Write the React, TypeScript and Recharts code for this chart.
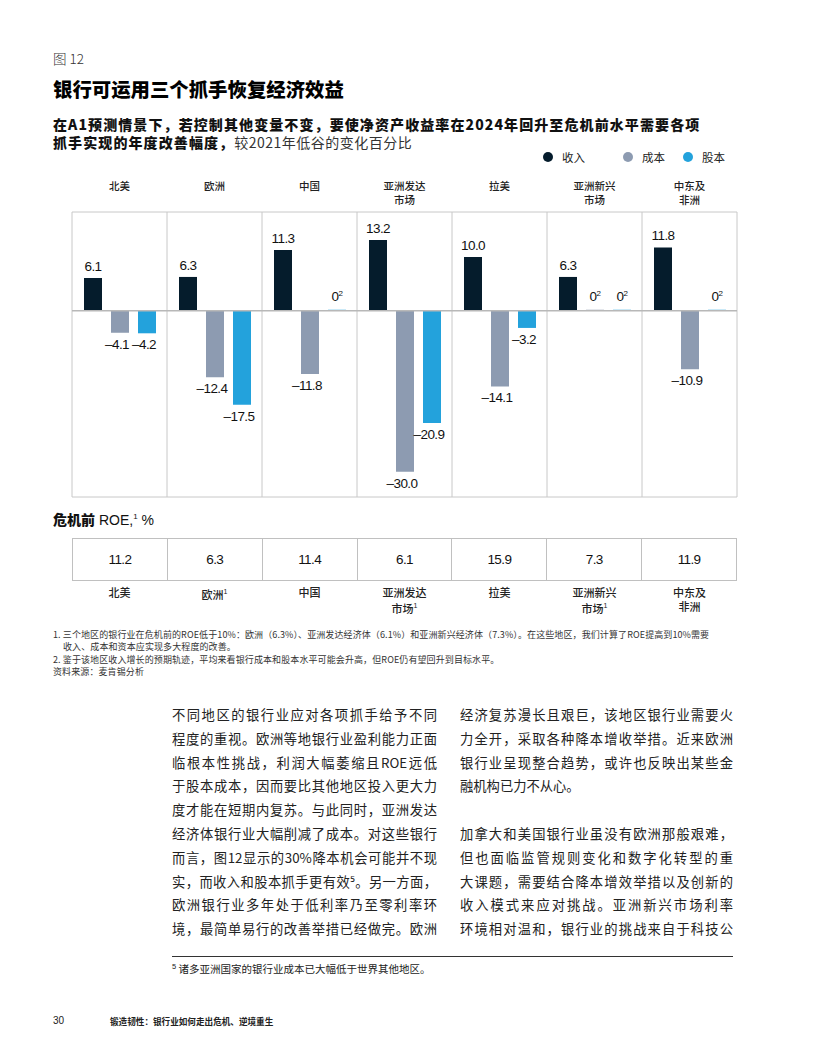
import React from "react";
import { BarChart, Bar, XAxis, YAxis, CartesianGrid, ReferenceLine, LabelList } from "recharts";

const regions = ["北美", "欧洲", "中国", "亚洲发达\n市场", "拉美", "亚洲新兴\n市场", "中东及\n非洲"];
const revenue = [6.1, 6.3, 11.3, 13.2, 10.0, 6.3, 11.8];
const cost = [-4.1, -12.4, -11.8, -30.0, -14.1, 0, -10.9];
const equity = [-4.2, -17.5, 0, -20.9, -3.2, 0, 0];
const seriesNames = ["收入", "成本", "股本"];
const seriesColors = ["#051c2c", "#8d9bb1", "#23a2dc"];

const roeValues = [11.2, 6.3, 11.4, 6.1, 15.9, 7.3, 11.9];
const roeLabels = ["北美", "欧洲¹", "中国", "亚洲发达\n市场¹", "拉美", "亚洲新兴\n市场¹", "中东及\n非洲"];

const data = regions.map((r, i) => ({ region: r, revenue: revenue[i], cost: cost[i], equity: equity[i] }));

const CJK = '"Noto Sans CJK SC", "Noto Sans", sans-serif';
const NUM = '"Liberation Sans", Arial, sans-serif';

// zero values still get a hairline so the "0²" label has a bar to sit on
const zeroStub = (v: number) => (v === 0 ? 1 : 0);

// region names sit above the box, two lines packed tight like the print
const RegionTick = (props: any) => {
  const { x, y, payload } = props;
  const lines = String(payload.value).split("\n");
  return (
    <foreignObject x={x - 45} y={y - 24.8} width={90} height={30}>
      <div style={{ textAlign: "center", fontFamily: CJK, fontSize: 10.5, fontWeight: 500, lineHeight: "13.6px", color: "#222" }}>
        {lines.map((l, i) => (
          <div key={i}>{l}</div>
        ))}
      </div>
    </foreignObject>
  );
};

const ValueLabel = (props: any) => {
  const { x, y, width, height, value } = props;
  const top = Math.min(y, y + height);
  const bottom = Math.max(y, y + height);
  const cx = x + width / 2;
  if (Number(value) === 0) {
    return (
      <text x={cx} y={top - 9} textAnchor="middle" fontFamily={NUM} fontSize={13.5} letterSpacing={-0.5} fill="#111">
        0<tspan fontSize={8} dy={-5}>2</tspan>
      </text>
    );
  }
  if (value > 0) {
    return (
      <text x={cx} y={top - 7} textAnchor="middle" fontFamily={NUM} fontSize={13.5} letterSpacing={-0.6} fill="#111">
        {value.toFixed(1)}
      </text>
    );
  }
  return (
    <text x={cx - 3} y={bottom + 16} textAnchor="middle" fontFamily={NUM} fontSize={13.5} letterSpacing={-0.6} fill="#111">
      {"–" + Math.abs(value).toFixed(1)}
    </text>
  );
};

const abs = (top: number, left: number, extra: React.CSSProperties = {}): React.CSSProperties => ({
  position: "absolute",
  top,
  left,
  whiteSpace: "nowrap",
  ...extra,
});

const leftLines = [
  "不同地区的银行业应对各项抓手给予不同",
  "程度的重视。欧洲等地银行业盈利能力正面",
  "临根本性挑战，利润大幅萎缩且ROE远低",
  "于股本成本，因而要比其他地区投入更大力",
  "度才能在短期内复苏。与此同时，亚洲发达",
  "经济体银行业大幅削减了成本。对这些银行",
  "而言，图12显示的30%降本机会可能并不现",
  "实，而收入和股本抓手更有效⁵。另一方面，",
  "欧洲银行业多年处于低利率乃至零利率环",
  "境，最简单易行的改善举措已经做完。欧洲",
];
const rightLines = [
  "经济复苏漫长且艰巨，该地区银行业需要火",
  "力全开，采取各种降本增收举措。近来欧洲",
  "银行业呈现整合趋势，或许也反映出某些金",
  "融机构已力不从心。",
  "",
  "加拿大和美国银行业虽没有欧洲那般艰难，",
  "但也面临监管规则变化和数字化转型的重",
  "大课题，需要结合降本增效举措以及创新的",
  "收入模式来应对挑战。亚洲新兴市场利率",
  "环境相对温和，银行业的挑战来自于科技公",
];

const BodyColumn = ({ lines, left, width }: { lines: string[]; left: number; width: number }) => (
  <>
    {lines.map((l, i) => {
      const justify = l !== "" && !l.endsWith("心。");
      return (
        <div
          key={i}
          style={abs(705 + i * 23.8, left, {
            width,
            fontFamily: CJK,
            fontSize: 13.3,
            lineHeight: "20px",
            color: "#222",
            textAlign: justify ? "justify" : "left",
            textAlignLast: justify ? "justify" : "left",
          })}
        >
          {l}
        </div>
      );
    })}
  </>
);

const legendX = [548, 628, 688];

export default function App() {
  return (
    <div style={{ position: "absolute", left: 0, top: 0, width: 816, height: 1056, background: "#fff", overflow: "hidden" }}>
      <div style={abs(48, 53, { fontFamily: CJK, fontSize: 13.5, color: "#333", fontWeight: 300 })}>图 12</div>
      <div style={abs(74, 53, { fontFamily: CJK, fontSize: 19.4, fontWeight: 900, color: "#000" })}>
        银行可运用三个抓手恢复经济效益
      </div>
      <div style={abs(114.5, 53, { fontFamily: CJK, fontSize: 14, fontWeight: 900, color: "#111", lineHeight: "18px", letterSpacing: 1.1 })}>
        在A1预测情景下，若控制其他变量不变，要使净资产收益率在2024年回升至危机前水平需要各项
        <br />
        抓手实现的年度改善幅度，<span style={{ fontWeight: 400, color: "#333", letterSpacing: 0.5 }}>较2021年低谷的变化百分比</span>
      </div>

      {/* legend */}
      {seriesNames.map((n, i) => (
        <div key={n} style={abs(149, legendX[i] - 5, { display: "flex", alignItems: "center", fontFamily: CJK, fontSize: 11.5, color: "#222", lineHeight: "16px" })}>
          <span style={{ width: 10, height: 10, borderRadius: 5, background: seriesColors[i], display: "inline-block", marginRight: 9 }} />
          {n}
        </div>
      ))}

      <div style={{ position: "absolute", left: 0, top: 0 }}>
        <BarChart
          width={816}
          height={520}
          data={data}
          margin={{ top: 172, right: 79, bottom: 23, left: 72 }}
          barSize={18}
          barGap={9}
          barCategoryGap={11}
        >
          <CartesianGrid
            stroke="#c8c8c8"
            horizontalCoordinatesGenerator={({ offset }: any) => [offset.top, offset.top + offset.height]}
            verticalCoordinatesGenerator={({ offset }: any) =>
              Array.from({ length: regions.length + 1 }, (_, i) => offset.left + (i * offset.width) / regions.length)
            }
          />
          <XAxis dataKey="region" orientation="top" height={40} axisLine={false} tickLine={false} interval={0} tick={<RegionTick />} />
          <YAxis hide domain={[-34.7, 18.4]} />
          <Bar dataKey="revenue" fill={seriesColors[0]} isAnimationActive={false}>
            <LabelList dataKey="revenue" content={<ValueLabel />} />
          </Bar>
          <Bar dataKey="cost" fill={seriesColors[1]} minPointSize={zeroStub} isAnimationActive={false}>
            <LabelList dataKey="cost" content={<ValueLabel />} />
          </Bar>
          <Bar dataKey="equity" fill={seriesColors[2]} minPointSize={zeroStub} isAnimationActive={false}>
            <LabelList dataKey="equity" content={<ValueLabel />} />
          </Bar>
          <ReferenceLine y={0} stroke="#b8b8b8" strokeWidth={1.5} />
        </BarChart>
      </div>

      <div style={abs(509, 53, { fontFamily: NUM, fontSize: 14, color: "#111" })}>
        <span style={{ fontFamily: CJK, fontWeight: 900 }}>危机前</span> ROE,<sup style={{ fontSize: 8 }}>1</sup> %
      </div>

      {/* ROE table */}
      <div style={{ position: "absolute", left: 72, top: 538, width: 665, height: 43, display: "flex", border: "1px solid #c0c0c0", boxSizing: "border-box" }}>
        {roeValues.map((v, i) => (
          <div
            key={i}
            style={{
              flex: 1,
              borderLeft: i > 0 ? "1px solid #c0c0c0" : "none",
              display: "flex",
              alignItems: "center",
              justifyContent: "center",
              fontFamily: NUM,
              fontSize: 13.5,
              letterSpacing: -0.6,
              color: "#111",
            }}
          >
            {v.toFixed(1)}
          </div>
        ))}
      </div>
      <div style={{ position: "absolute", left: 72, top: 585, width: 665, display: "flex" }}>
        {roeLabels.map((l, i) => (
          <div key={i} style={{ flex: 1, textAlign: "center", fontFamily: CJK, fontSize: 11, fontWeight: 500, lineHeight: "14px", color: "#222" }}>
            {l.split("\n").map((s, j) => (
              <div key={j}>
                {s.replace("¹", "")}
                {s.includes("¹") && <sup style={{ fontFamily: NUM, fontSize: 7 }}>1</sup>}
              </div>
            ))}
          </div>
        ))}
      </div>

      {/* footnotes */}
      <div style={abs(629, 53, { fontFamily: CJK, fontSize: 9, color: "#333", lineHeight: "12.3px", letterSpacing: 0.1 })}>
        <div>1. 三个地区的银行业在危机前的ROE低于10%：欧洲（6.3%）、亚洲发达经济体（6.1%）和亚洲新兴经济体（7.3%）。在这些地区，我们计算了ROE提高到10%需要</div>
        <div style={{ paddingLeft: 10 }}>收入、成本和资本应实现多大程度的改善。</div>
        <div>2. 鉴于该地区收入增长的预期轨迹，平均来看银行成本和股本水平可能会升高，但ROE仍有望回升到目标水平。</div>
        <div>资料来源：麦肯锡分析</div>
      </div>

      <BodyColumn lines={leftLines} left={172} width={265} />
      <BodyColumn lines={rightLines} left={460} width={273} />

      <div style={{ position: "absolute", left: 172, top: 956, width: 561, height: 1.3, background: "#333" }} />
      <div style={abs(961, 172, { fontFamily: CJK, fontSize: 10.5, color: "#222" })}>
        <sup style={{ fontFamily: NUM, fontSize: 7.5 }}>5</sup> 诸多亚洲国家的银行业成本已大幅低于世界其他地区。
      </div>

      <div style={abs(1015, 53, { fontFamily: NUM, fontSize: 10, color: "#222" })}>30</div>
      <div style={abs(1015, 110, { fontFamily: CJK, fontSize: 8.6, fontWeight: 700, color: "#222" })}>锻造韧性：银行业如何走出危机、逆境重生</div>
    </div>
  );
}
